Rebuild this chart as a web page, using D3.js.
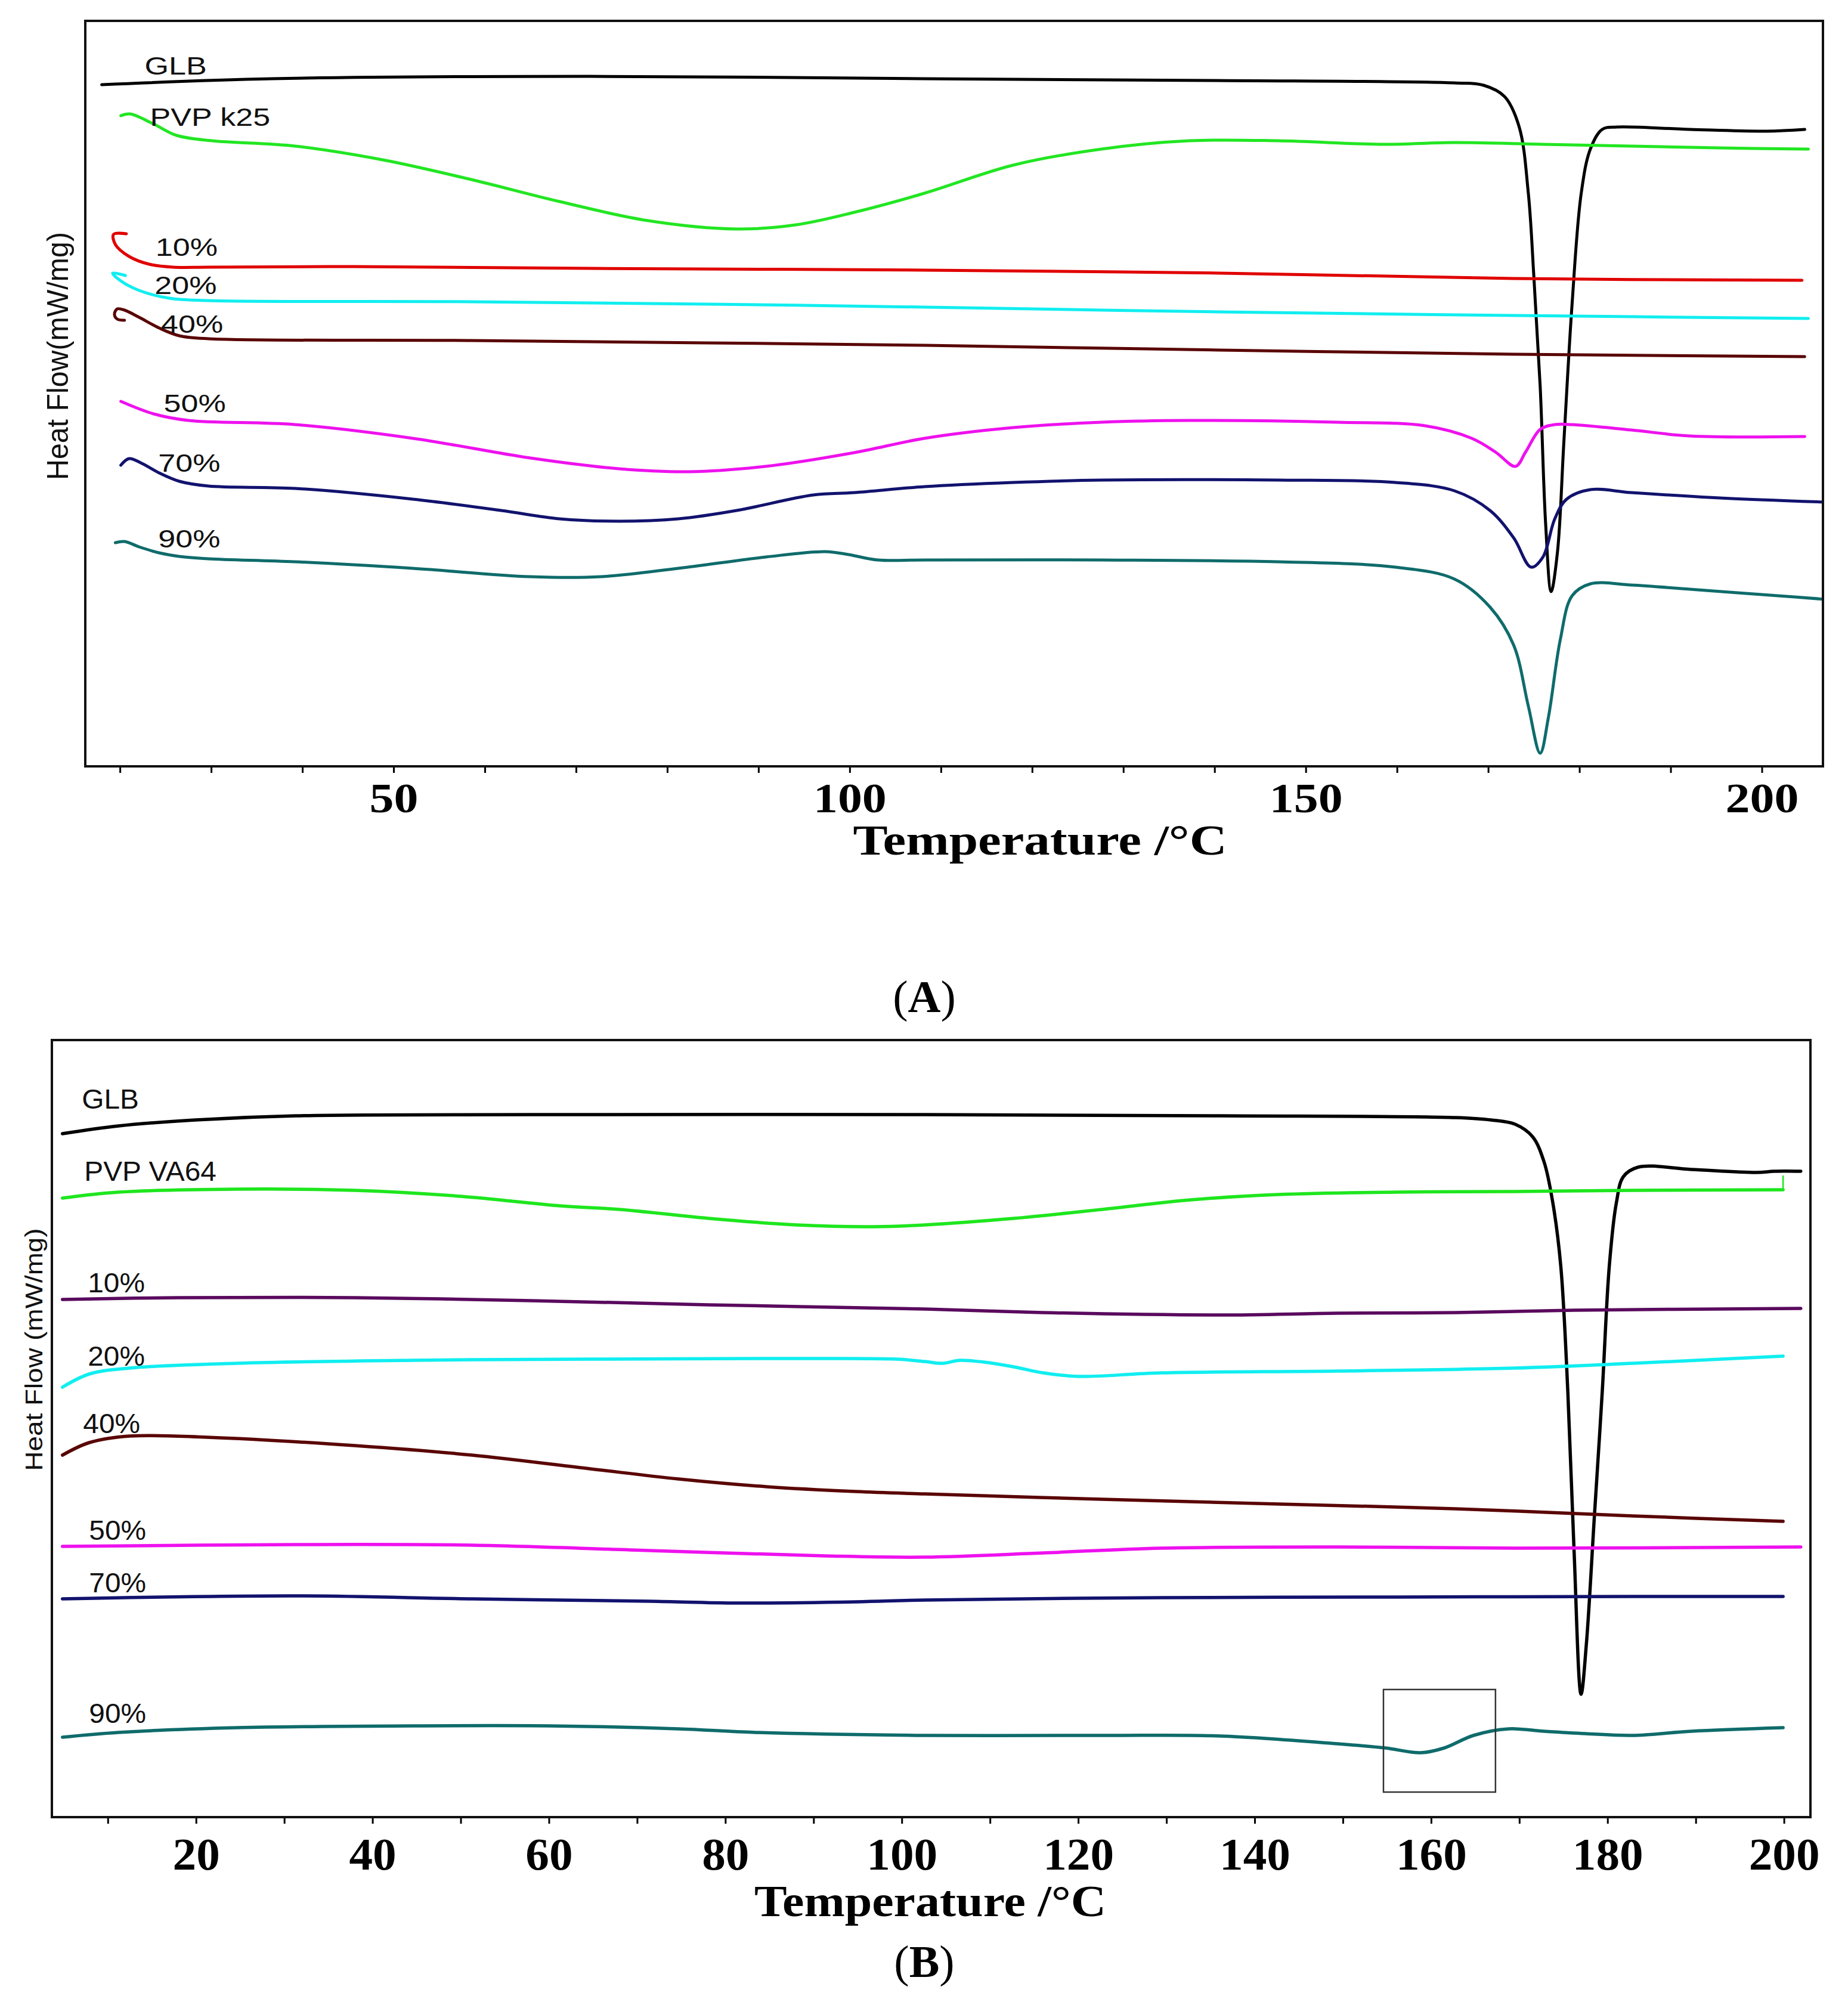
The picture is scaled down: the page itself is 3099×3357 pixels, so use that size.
<!DOCTYPE html>
<html>
<head>
<meta charset="utf-8">
<script src="https://cdn.jsdelivr.net/npm/d3@7"></script>
<style>
  body { margin: 0; background: #fff; }
  svg { display: block; }
</style>
</head>
<body>
<svg id="chart"></svg>
<script>
const width = 3099;
const height = 3357;
const svg = d3.select("#chart").attr("width", width).attr("height", height);
svg.append("rect").attr("width", width).attr("height", height).attr("fill", "#fff");

const serif = "'Liberation Serif', 'Times New Roman', serif";
const sans = "'Liberation Sans', Arial, sans-serif";

// ---- data: [temperature °C, heat flow (arbitrary offset units)] ----
// Panel A: PVP k25 dispersions
const glbA = [[18.0,114.3],[36.6,115.3],[71.5,115.7],[108.2,115.3],[140,115.0],[166.3,114.6],[169.5,114.2],[171.8,112.3],[173.4,107.2],[174.4,96.1],[175.0,82.3],[175.7,63.7],[176.3,40.6],[176.9,29.3],[177.6,36.0],[178.3,54.5],[179.2,77.6],[180.2,96.1],[181.2,103.5],[182.5,106.8],[184.1,107.2],[192.1,106.8],[200.5,106.5],[204.7,106.8]];
const pvpA = [[20.1,109.1],[21.1,109.4],[23.7,107.7],[26.2,105.8],[30.1,104.9],[39.2,104.0],[48.8,101.7],[58.5,98.4],[68.2,94.7],[77.9,91.5],[87.6,90.1],[94.1,90.8],[100.5,92.9],[108.2,96.1],[117.9,100.8],[127.6,103.5],[137.2,104.9],[147.0,104.9],[158.5,104.3],[166.3,104.6],[176.0,104.3],[185.7,104.0],[195.4,103.7],[205.1,103.5]];
const p10A = [[20.7,89.3],[19.3,89.2],[19.5,87.5],[21.0,85.5],[23.2,84.2],[25.8,83.7],[29.7,83.7],[45.6,83.8],[71.5,83.5],[108.2,83.2],[140.5,82.7],[172.8,81.8],[204.4,81.5]];
const p20A = [[20.6,82.3],[19.2,82.7],[20.0,81.5],[22.1,79.8],[25.4,78.5],[29.7,78.1],[58.5,77.9],[84.4,77.5],[108.2,77.0],[140.5,76.2],[172.8,75.6],[205.1,75.1]];
const p40A = [[20.5,74.8],[19.7,75.0],[19.4,75.8],[19.7,76.7],[20.5,76.5],[22.1,75.3],[24.3,73.5],[26.5,72.2],[29.7,71.7],[58.5,71.4],[84.4,71.0],[108.2,70.6],[140.5,69.8],[172.8,69.1],[204.7,68.7]];
const p50A = [[20.1,61.2],[23.7,59.1],[27.5,58.0],[39.2,57.3],[52.1,55.0],[65.0,51.7],[74.7,49.9],[82.4,49.4],[90.8,50.3],[100.5,52.6],[108.2,55.0],[117.9,56.8],[127.6,57.7],[137.2,58.0],[153.4,57.7],[163.1,57.1],[168.2,55.0],[170.8,52.7],[173.0,50.3],[174.1,52.7],[175.7,56.5],[177.3,57.3],[179.2,57.3],[185.7,56.4],[192.1,55.4],[204.7,55.3]];
const p70A = [[20.1,50.5],[21.0,51.6],[22.4,50.8],[24.3,49.2],[26.5,47.8],[29.7,47.0],[39.2,46.6],[52.1,44.8],[61.8,42.9],[68.2,41.5],[74.7,41.1],[81.2,41.5],[87.6,42.9],[96.0,45.5],[100.5,45.9],[108.2,46.9],[117.9,47.6],[127.6,48.0],[147.0,48.0],[159.8,47.6],[166.3,46.2],[170.2,42.9],[172.8,38.3],[174.7,33.4],[176.0,35.1],[177.3,41.5],[178.6,44.8],[181.2,46.4],[185.7,45.9],[195.4,45.0],[207.0,44.3]];
const p90A = [[19.5,37.5],[20.5,37.7],[22.1,36.8],[24.3,35.8],[26.5,35.2],[29.7,34.8],[39.2,34.3],[52.1,33.2],[65.0,31.8],[72.7,31.8],[81.2,33.2],[90.8,35.1],[97.3,36.0],[99.9,35.5],[103.1,34.6],[108.2,34.6],[127.6,34.6],[147.0,34.3],[159.8,33.4],[166.3,31.4],[170.2,26.7],[172.8,20.3],[174.4,10.1],[175.7,2.2],[176.6,8.2],[177.9,21.2],[179.2,28.6],[181.2,30.6],[185.7,30.4],[192.1,29.7],[201.8,28.6],[207.0,28.0]];

// Panel B: PVP VA64 dispersions
const glbB = [[4.86,114.6],[11.2,115.9],[19.9,116.9],[31.3,117.6],[58.0,117.8],[102.6,117.8],[136.1,117.6],[162.8,117.3],[166.8,116.9],[169.5,116.2],[171.5,114.1],[172.8,109.9],[173.8,103.0],[174.7,92.4],[175.5,71.3],[176.2,44.9],[177.0,20.6],[177.6,29.0],[178.5,50.2],[179.4,71.3],[180.2,92.4],[181.0,103.0],[181.8,107.4],[183.5,109.0],[189.5,108.6],[196.9,108.1],[198.9,108.3],[201.9,108.3]];
const pvpB = [[4.86,103.8],[11.2,104.8],[24.6,105.3],[38.0,105.1],[50.0,104.1],[61.3,102.5],[68.0,101.9],[78.1,100.4],[88.1,99.3],[96.8,99.0],[102.6,99.3],[112.7,100.4],[122.7,101.9],[132.7,103.5],[142.7,104.4],[156.1,104.8],[169.5,104.9],[182.9,105.1],[199.9,105.2]];
const p10B = [[4.86,86.8],[17.9,87.1],[38.0,87.1],[58.0,86.6],[78.1,85.9],[102.6,85.2],[116.0,84.6],[136.1,84.2],[149.4,84.5],[162.8,84.6],[176.2,85.0],[201.9,85.3]];
const p20B = [[4.86,72.1],[7.9,74.3],[12.5,75.3],[24.6,76.1],[44.6,76.6],[64.7,76.8],[88.1,76.9],[99.4,76.8],[102.6,76.4],[104.6,76.1],[106.6,76.6],[109.3,76.3],[112.7,75.5],[116.0,74.5],[120.0,73.9],[129.4,74.5],[149.4,74.8],[169.5,75.3],[182.9,76.1],[199.9,77.3]];
const p40B = [[4.86,60.7],[7.9,62.8],[12.5,63.9],[21.2,63.7],[38.0,62.3],[51.3,60.7],[64.7,58.4],[74.7,56.7],[84.7,55.4],[94.8,54.6],[102.6,54.2],[122.7,53.3],[142.7,52.5],[162.8,51.7],[182.9,50.5],[199.9,49.6]];
const p50B = [[4.86,45.4],[31.3,45.7],[51.3,45.6],[71.4,44.7],[91.4,43.8],[102.6,43.6],[116.0,44.3],[129.4,45.1],[149.4,45.3],[169.5,45.1],[201.9,45.3]];
const p70B = [[4.86,36.6],[31.3,37.1],[51.3,36.6],[71.4,36.2],[81.4,35.9],[94.8,36.1],[102.6,36.4],[129.4,36.8],[156.1,36.9],[182.9,37.0],[199.9,37.0]];
const p90B = [[4.86,13.4],[11.2,14.2],[24.6,15.0],[44.6,15.3],[60.0,15.3],[74.7,14.8],[83.4,14.2],[102.6,13.7],[122.7,13.7],[136.1,13.6],[149.4,12.3],[154.8,11.6],[158.8,10.8],[161.5,11.6],[164.8,13.7],[168.8,14.8],[172.8,14.4],[177.5,14.0],[182.8,13.7],[189.5,14.4],[199.9,15.0]];

// small vertical end mark on the PVP VA64 trace
const pvpBEndMark = [[199.9,105.2],[199.9,107.6]];

// curve names and where their labels sit (temperature, heat flow)
const namesA = ["GLB", "PVP k25", "10%", "20%", "40%", "50%", "70%", "90%"];
const labelAtA = [[22.7,116.0],[23.3,107.4],[23.9,85.6],[23.8,79.2],[24.5,72.7],[24.8,59.4],[24.2,49.4],[24.2,36.7]];
const namesB = ["GLB", "PVP VA64", "10%", "20%", "40%", "50%", "70%", "90%"];
const labelAtB = [[7.06,118.8],[7.33,106.7],[7.73,88.0],[7.73,75.7],[7.2,64.4],[7.87,46.5],[7.87,37.7],[7.87,15.8]];

const colorsA = ["#000000", "#22e622", "#e00000", "#11eef0", "#5a0505", "#ee11ee", "#12126e", "#0f6b6b"];
const colorsB = ["#000000", "#1ee61e", "#5a0a5e", "#11eef0", "#5a0505", "#ee11ee", "#12126e", "#0f6b6b"];

// tick values
const ticksA = d3.range(20, 201, 10);
const ticksB = d3.range(10, 201, 10);

// highlighted region in panel B (temperature range, heat flow range)
const boxB = { t: [154.6, 167.3], v: [4.2, 21.4] };

function drawPanel(cfg) {
    const g = svg.append("g");
    const x = d3.scaleLinear().domain(cfg.xDomain).range([cfg.left, cfg.right]);
    const y = d3.scaleLinear().domain(cfg.yDomain).range([cfg.bottom, cfg.top]);

    const clipId = "clip" + cfg.id;
    svg.append("clipPath").attr("id", clipId)
        .append("rect")
        .attr("x", cfg.left).attr("y", cfg.top)
        .attr("width", cfg.right - cfg.left).attr("height", cfg.bottom - cfg.top);

    const line = d3.line()
        .x(d => x(d[0]))
        .y(d => y(d[1]))
        .curve(d3.curveCatmullRom.alpha(0.5));

    const curves = g.append("g").attr("clip-path", `url(#${clipId})`);
    curves.selectAll("path.trace")
        .data(cfg.series)
        .join("path")
        .attr("class", "trace")
        .attr("d", d => line(d))
        .attr("fill", "none")
        .attr("stroke", (d, i) => cfg.colors[i])
        .attr("stroke-width", cfg.lineWidth)
        .attr("stroke-linejoin", "round")
        .attr("stroke-linecap", "round");

    if (cfg.endMark) {
        curves.append("path")
            .attr("d", d3.line().x(d => x(d[0])).y(d => y(d[1]))(cfg.endMark))
            .attr("stroke", cfg.colors[1])
            .attr("stroke-width", 2.5);
    }

    // curve labels
    g.selectAll("text.curve-label")
        .data(cfg.names)
        .join("text")
        .attr("class", "curve-label")
        .attr("transform", (d, i) => `translate(${x(cfg.labelAt[i][0])},${y(cfg.labelAt[i][1])}) scale(${cfg.labelStretch},1)`)
        .style("font-family", sans)
        .attr("font-size", cfg.labelSize)
        .attr("fill", "#111")
        .text(d => d);

    if (cfg.box) {
        g.append("rect")
            .attr("x", x(cfg.box.t[0]))
            .attr("y", y(cfg.box.v[1]))
            .attr("width", x(cfg.box.t[1]) - x(cfg.box.t[0]))
            .attr("height", y(cfg.box.v[0]) - y(cfg.box.v[1]))
            .attr("fill", "none")
            .attr("stroke", "#333")
            .attr("stroke-width", 2.5);
    }

    // bottom axis
    const axis = d3.axisBottom(x)
        .tickValues(cfg.ticks)
        .tickSize(11)
        .tickSizeOuter(0)
        .tickPadding(cfg.tickPadding)
        .tickFormat(d => d % cfg.labelEvery === 0 ? d : "");
    const ax = g.append("g")
        .attr("transform", `translate(0,${cfg.bottom})`)
        .call(axis);
    ax.select(".domain").remove();
    ax.selectAll(".tick line").attr("stroke", "#000").attr("stroke-width", 3);
    ax.selectAll(".tick text")
        .style("font-family", serif)
        .attr("font-weight", "bold")
        .attr("font-size", cfg.tickSize)
        .attr("fill", "#000")
        .attr("transform", `scale(${cfg.tickStretch},1)`);

    // frame
    g.append("rect")
        .attr("x", cfg.left).attr("y", cfg.top)
        .attr("width", cfg.right - cfg.left).attr("height", cfg.bottom - cfg.top)
        .attr("fill", "none")
        .attr("stroke", "#111")
        .attr("stroke-width", 4);

    // axis titles
    g.append("text")
        .attr("x", cfg.xTitle[0]).attr("y", cfg.xTitle[1])
        .attr("text-anchor", "middle")
        .style("font-family", serif)
        .attr("font-weight", "bold")
        .attr("font-size", cfg.xTitleSize)
        .attr("textLength", cfg.xTitleLength)
        .attr("lengthAdjust", "spacingAndGlyphs")
        .text("Temperature /°C");

    g.append("text")
        .attr("transform", `translate(${cfg.yTitle[0]},${cfg.yTitle[1]}) rotate(-90)`)
        .attr("text-anchor", "middle")
        .attr("dominant-baseline", "central")
        .style("font-family", sans)
        .attr("font-size", cfg.yTitleSize)
        .attr("textLength", cfg.yTitleLength)
        .attr("lengthAdjust", "spacingAndGlyphs")
        .attr("fill", "#111")
        .text(cfg.yLabel);

    // panel caption
    const cap = g.append("text")
        .attr("x", cfg.caption[0]).attr("y", cfg.caption[1])
        .attr("text-anchor", "middle")
        .style("font-family", serif)
        .attr("font-size", 76)
        .attr("fill", "#000");
    cap.append("tspan").text("(");
    cap.append("tspan").attr("font-weight", "bold").text(cfg.id);
    cap.append("tspan").text(")");
}

drawPanel({
    id: "A",
    series: [glbA, pvpA, p10A, p20A, p40A, p50A, p70A, p90A],
    colors: colorsA,
    names: namesA,
    labelAt: labelAtA,
    xDomain: [16.2, 206.7],
    yDomain: [0, 125],
    left: 143, right: 3057, top: 35, bottom: 1285,
    lineWidth: 5,
    labelSize: 42, labelStretch: 1.24,
    ticks: ticksA, labelEvery: 50,
    tickSize: 70, tickStretch: 1.17, tickPadding: 16,
    xTitle: [1744, 1433], xTitleSize: 72, xTitleLength: 627,
    yTitle: [97, 597], yTitleSize: 50, yTitleLength: 416,
    yLabel: "Heat Flow(mW/mg)",
    caption: [1550, 1697]
});

drawPanel({
    id: "B",
    series: [glbB, pvpB, p10B, p20B, p40B, p50B, p70B, p90B],
    colors: colorsB,
    names: namesB,
    labelAt: labelAtB,
    endMark: pvpBEndMark,
    xDomain: [3.66, 203.0],
    yDomain: [0, 130.3],
    left: 87, right: 3036, top: 1744, bottom: 3047,
    lineWidth: 5.5,
    labelSize: 46, labelStretch: 1.04,
    ticks: ticksB, labelEvery: 20,
    tickSize: 77, tickStretch: 1.03, tickPadding: 22,
    xTitle: [1560, 3213], xTitleSize: 74, xTitleLength: 590,
    yTitle: [57, 2263], yTitleSize: 40, yTitleLength: 407,
    yLabel: "Heat Flow (mW/mg)",
    box: boxB,
    caption: [1550, 3315]
});
</script>
</body>
</html>
